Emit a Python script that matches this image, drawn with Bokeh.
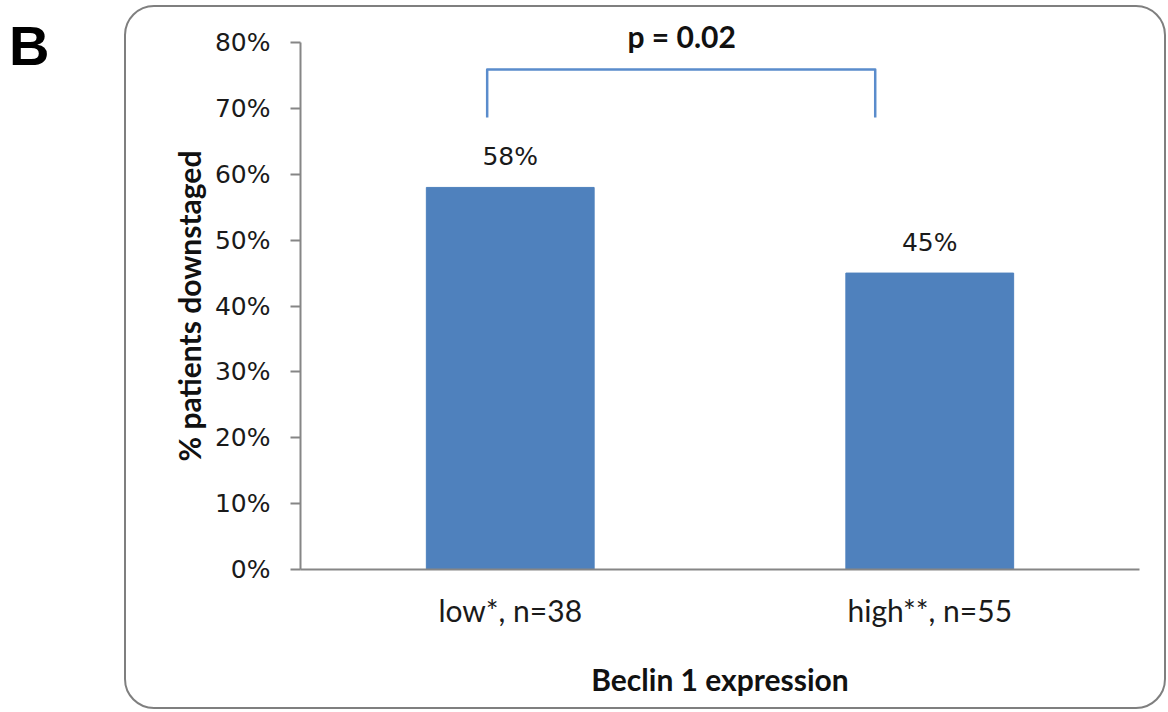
from bokeh.plotting import figure
from bokeh.models import (Range1d, FactorRange, NumeralTickFormatter, FixedTicker,
                          Title, ColumnDataSource, Div, Spacer)
from bokeh.layouts import row, column
from bokeh.core.properties import value
from bokeh.embed import file_html
from bokeh.resources import INLINE

# ---- data ----
categories = ["low*, n=38", "high**, n=55"]
values = [0.58, 0.45]
value_labels = ["58%", "45%"]
y_ticks = [0.0, 0.1, 0.2, 0.3, 0.4, 0.5, 0.6, 0.7, 0.8]
y_axis_max = 0.8
p_value_text = "p = 0.02"
panel_letter = "B"
x_title = "Beclin 1 expression"
y_title = "% patients downstaged"

# bracket geometry (category offsets / heights in data units)
bracket_offsets = [-0.055, -0.13]
bracket_top = 0.759
bracket_bottom = 0.686

BAR = "#4f81bd"
AXIS = "#868686"

p = figure(x_range=FactorRange(*categories), y_range=Range1d(0, y_axis_max),
           width=1038, height=700, output_backend="svg", toolbar_location=None,
           min_border_left=174, min_border_right=29, min_border_top=35,
           min_border_bottom=142)
p.styles = {"border": "2px solid #7f7f7f", "border-radius": "30px",
            "box-sizing": "content-box"}
p.outline_line_color = None
p.background_fill_color = None
p.border_fill_color = None
p.xgrid.visible = False
p.ygrid.visible = False

src = ColumnDataSource(dict(x=categories, top=values, lab=value_labels))
p.vbar(x="x", top="top", width=0.4, source=src, fill_color=BAR, line_color=BAR)
p.text(x="x", y="top", text="lab", source=src, y_offset=-31,
       text_align="center", text_baseline="middle",
       text_font=value("DejaVu Sans"), text_font_size="25px", text_color="#1a1a1a")

# bracket
bx = [(categories[0], bracket_offsets[0]), (categories[0], bracket_offsets[0]),
      (categories[1], bracket_offsets[1]), (categories[1], bracket_offsets[1])]
by = [bracket_bottom, bracket_top, bracket_top, bracket_bottom]
p.line(x=bx, y=by, line_color="#5a8ccc", line_width=2.5, line_join="round")

# p-value text above the bracket
p.add_layout(Title(text=p_value_text, align="left", offset=327, standoff=-22,
                   text_font="Lato", text_font_style="bold", text_font_size="30px",
                   text_color="#111111"), "above")

# y axis
ya = p.yaxis[0]
ya.bounds = (0, y_axis_max)
ya.ticker = FixedTicker(ticks=y_ticks)
ya.formatter = NumeralTickFormatter(format="0%")
ya.major_tick_in = 0
ya.major_tick_out = 10
ya.minor_tick_line_color = None
ya.axis_line_color = AXIS
ya.axis_line_width = 2
ya.major_tick_line_color = AXIS
ya.major_tick_line_width = 2
ya.major_label_standoff = 20
ya.major_label_text_font = "DejaVu Sans"
ya.major_label_text_font_size = "25px"
ya.major_label_text_color = "#1a1a1a"
ya.axis_label = y_title
ya.axis_label_text_font = "Lato"
ya.axis_label_text_font_style = "bold"
ya.axis_label_text_font_size = "30px"
ya.axis_label_text_color = "#111111"
ya.axis_label_standoff = 5

# x axis
xa = p.xaxis[0]
xa.major_tick_in = 0
xa.major_tick_out = 0
xa.major_tick_line_color = None
xa.axis_line_color = AXIS
xa.axis_line_width = 2
xa.major_label_standoff = 22
xa.major_label_text_font = "Lato"
xa.major_label_text_font_size = "30px"
xa.major_label_text_color = "#1a1a1a"
xa.axis_label = x_title
xa.axis_label_text_font = "Lato"
xa.axis_label_text_font_style = "bold"
xa.axis_label_text_font_size = "30px"
xa.axis_label_text_color = "#111111"
xa.axis_label_standoff = 30

letter_html = ('<div style="position:relative; left:9px; top:13px; '
               "font-family:'Liberation Sans', Arial, sans-serif; font-size:56px; "
               'font-weight:bold; color:#000000; line-height:normal;">'
               + panel_letter + '</div>')
letter = Div(text=letter_html, width=124, height=709, margin=0)

layout = row(letter, column(Spacer(width=1042, height=5, margin=0), p))
open("out.html", "w").write(file_html(layout, INLINE))
